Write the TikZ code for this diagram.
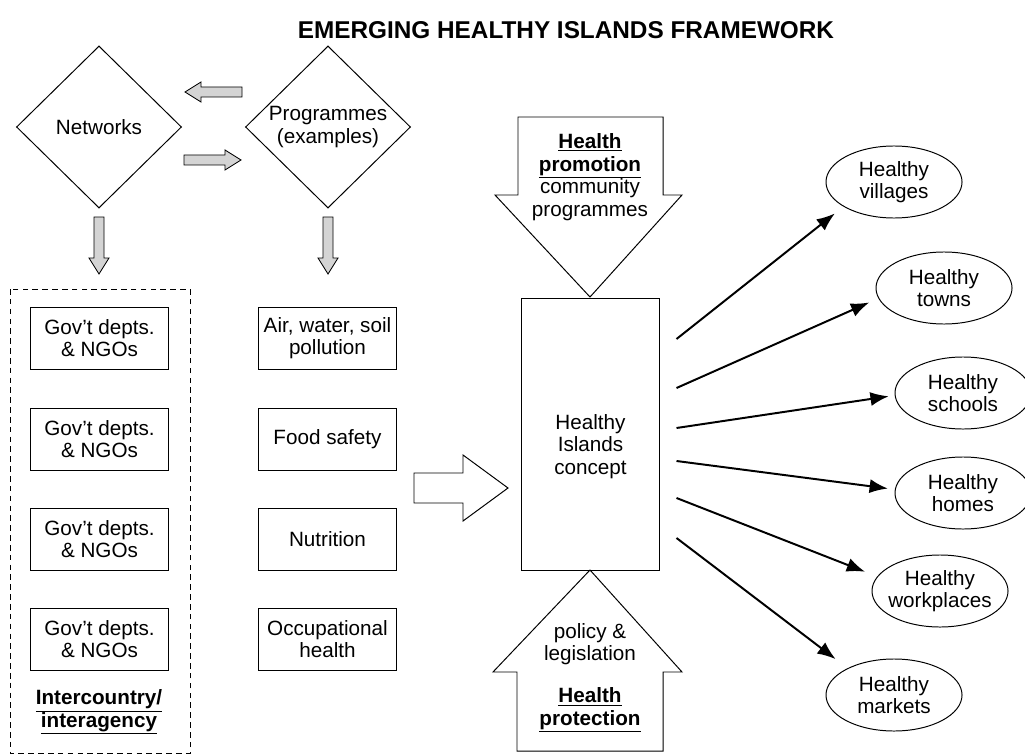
\documentclass[tikz,border=0pt]{standalone}
\usepackage{fontspec}
\setmainfont{Liberation Sans}
\usetikzlibrary{shapes.geometric,arrows.meta}

\tikzset{
    box/.style={draw,line width=0.7pt,minimum width=3.425cm,minimum height=1.55cm,inner sep=0pt,align=center},
    dmnd/.style={diamond,draw,line width=0.7pt,minimum width=4.125cm,minimum height=4.05cm,inner sep=0pt,align=center},
    oval/.style={ellipse,draw,line width=0.7pt,minimum width=3.4cm,minimum height=1.8cm,inner xsep=-5pt,inner ysep=0pt,align=center},
    spoke/.style={line width=1.4pt,-{Latex[length=13pt,width=10pt]}},
    fat/.style={draw,line width=0.6pt,fill=black!17},
    hollow/.style={draw,line width=0.7pt,fill=white},
    fatarrow/.pic={\path[fat] (0,-5) -- (41,-5) -- (41,-10) -- (57,0) -- (41,10) -- (41,5) -- (0,5) -- cycle;}
}
\newcommand{\hdr}[1]{\underline{\textbf{#1}}}

\begin{document}
\begin{tikzpicture}[x=0.025cm,y=-0.025cm,font=\fontsize{14.7pt}{16pt}\selectfont]
                \useasboundingbox (0,0) rectangle (1025,755);
                \node[font=\bfseries\fontsize{17.3pt}{20pt}\selectfont] (title) at (566,30) {EMERGING HEALTHY ISLANDS FRAMEWORK};
                % left part
                \node[dmnd] (net) at (99,127) {Networks};
                \node[dmnd] (prog) at (328,127) {Programmes\\(examples)};
                \pic[rotate=180] at (242,92) {fatarrow};
                \pic at (184,160) {fatarrow};
                \pic[rotate=-90] at (99,217) {fatarrow};
                \pic[rotate=-90] at (328,217) {fatarrow};
                \draw[line width=0.7pt,dash pattern=on 4pt off 3pt] (10,289) rectangle (190,753);
                \foreach \i/\y in {1/338,2/439,3/539,4/639}{
                    \node[box] (gov\i) at (99.5,\y) {Gov't depts.\\\& NGOs};
                }
                \node[align=center] (inter) at (99,712) {\hdr{Intercountry/}\\\hdr{interagency}};
                \node[box] (air) at (327.5,338) {Air, water, soil\\pollution};
                \node[box] (food) at (327.5,439) {Food safety};
                \node[box] (nutri) at (327.5,539) {Nutrition};
                \node[box] (occ) at (327.5,639) {Occupational\\health};
                % centre
                \draw[hollow] (414,473) -- (463,473) -- (463,455) -- (508,488) -- (463,521) -- (463,503) -- (414,503) -- cycle;
                \node[draw,line width=0.7pt,minimum width=3.425cm,minimum height=6.775cm,
                    label={[yshift=-0.3cm,align=center]center:Healthy\\Islands\\concept}] (concept) at (590.5,434.5) {};
                \draw[hollow] (518,117) -- (663,117) -- (663,195) -- (682,195) -- (590,297) -- (495,195) -- (518,195) -- cycle;
                \node[align=center] (promo) at (590,177) {\hdr{Health}\\\hdr{promotion}\\community\\programmes};
                \draw[hollow] (590,570) -- (682,672) -- (663,672) -- (663,751) -- (517,751) -- (517,672) -- (493,672) -- cycle;
                \node[align=center] (policy) at (590,644) {policy \&\\legislation};
                \node[align=center] (protect) at (590,710) {\hdr{Health}\\\hdr{protection}};
                % settings
                \node[oval] (vil) at (894,182) {Healthy\\villages};
                \node[oval] (town) at (944,288) {Healthy\\towns};
                \node[oval] (school) at (963,393) {Healthy\\schools};
                \node[oval] (home) at (963,493) {Healthy\\homes};
                \node[oval] (work) at (940,591) {Healthy\\workplaces};
                \node[oval] (market) at (894,695) {Healthy\\markets};
                \foreach \dy/\tgt/\ang/\gap in {-95.5/vil/206/11,-46.5/town/189/10,-6.5/school/182/6,26.5/home/177/7,63.5/work/167/13,103.5/market/150/15}{
                    \draw[spoke,shorten >={\gap*0.025cm}] ([shift={(17,\dy)}]concept.east) -- (\tgt.\ang);
                }
            \end{tikzpicture}
\end{document}
